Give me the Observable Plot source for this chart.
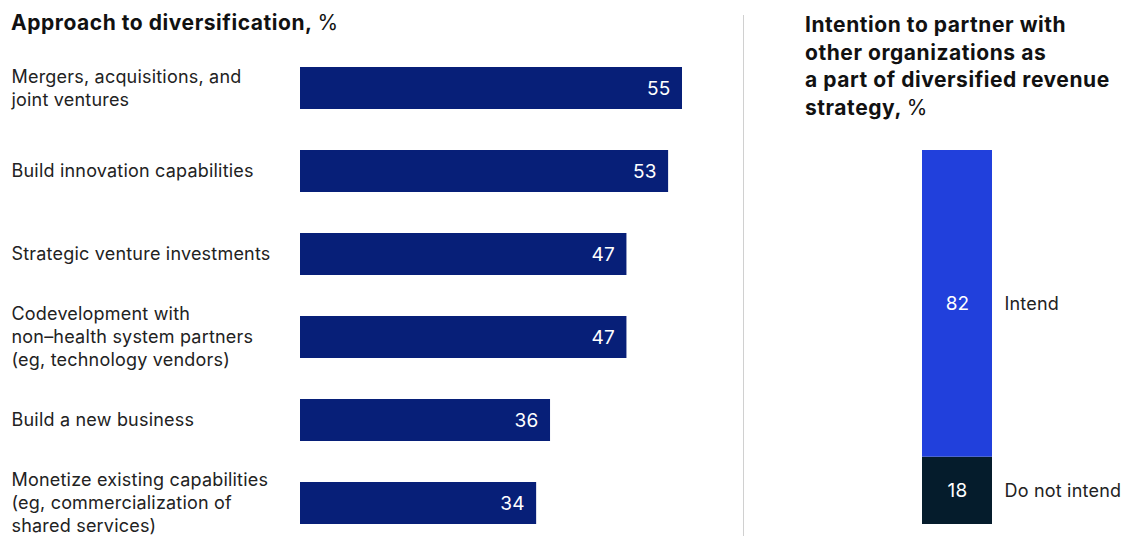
<!DOCTYPE html>
<html>
<head>
<meta charset="utf-8">
<script src="https://cdn.jsdelivr.net/npm/d3@7"></script>
<script src="https://cdn.jsdelivr.net/npm/@observablehq/plot@0.6"></script>
<style>
  body { margin: 0; background: #fff; font-family: Inter, "Liberation Sans", Arial, sans-serif; color: #000; }
  #wrap { position: relative; width: 1136px; height: 536px; overflow: hidden; }
  .title { position: absolute; font-size: 21px; font-weight: 700; line-height: 27.7px; color: #111; letter-spacing: 0.55px; }
  .title span { font-weight: normal; }
  #left, #right { position: absolute; top: 0; }
  #left { left: 0; }
  #right { left: 743px; }
  #sep { position: absolute; left: 743px; top: 15px; width: 1px; height: 521px; background: #d0d0d0; }
</style>
</head>
<body>
<div id="wrap">
  <div id="left"></div>
  <div id="right"></div>
  <div id="sep"></div>
  <div class="title" style="left:11px; top:9px;">Approach to diversification, <span>%</span></div>
  <div class="title" style="left:805px; top:11px;">Intention to partner with<br>other organizations as<br>a part of diversified revenue<br>strategy, <span>%</span></div>
</div>
<script>
const approaches = [
  "Mergers, acquisitions, and\njoint ventures",
  "Build innovation capabilities",
  "Strategic venture investments",
  "Codevelopment with\nnon–health system partners\n(eg, technology vendors)",
  "Build a new business",
  "Monetize existing capabilities\n(eg, commercialization of\nshared services)"
];
const approachValues = [55, 53, 47, 47, 36, 34];

const partnerCategories = ["Intend", "Do not intend"];
const partnerValues = [82, 18];

const font = "Inter, Liberation Sans, Arial, sans-serif";
const approachData = approaches.map((a, i) => ({label: a, value: approachValues[i]}));

const left = Plot.plot({
  width: 743,
  height: 536,
  marginLeft: 300,
  marginRight: 61,
  marginTop: 66,
  marginBottom: 12,
  style: {fontFamily: font, background: "transparent", overflow: "visible", letterSpacing: "0.2px"},
  x: {domain: [0, 55], axis: null},
  y: {domain: approaches, paddingInner: 0.495, paddingOuter: 0, axis: null},
  marks: [
    Plot.barX(approachData, {x: "value", y: "label", fill: "#071F78"}),
    Plot.text(approachData, {x: "value", y: "label", text: d => String(d.value), fill: "white", textAnchor: "end", dx: -12, fontSize: 19}),
    Plot.text(approachData, {y: "label", text: "label", frameAnchor: "left", textAnchor: "start", dx: -289, dy: -1.5, fontSize: 18, lineHeight: 1.28, fill: "#222"})
  ]
});
document.getElementById("left").appendChild(left);

const partnerData = partnerCategories.map((c, i) => ({group: "Partner", category: c, value: partnerValues[i]})).reverse();

const right = Plot.plot({
  width: 393,
  height: 536,
  marginLeft: 179,
  marginRight: 144,
  marginTop: 150,
  marginBottom: 12,
  style: {fontFamily: font, background: "transparent", overflow: "visible", letterSpacing: "0.2px"},
  x: {domain: ["Partner"], padding: 0, axis: null},
  y: {domain: [0, 100], axis: null},
  color: {domain: partnerCategories, range: ["#2140DC", "#051C2C"]},
  marks: [
    Plot.barY(partnerData, {x: "group", y: "value", fill: "category"}),
    Plot.text(partnerData, Plot.stackY({x: "group", y: "value", text: d => String(d.value), fill: "white", fontSize: 19})),
    Plot.text(partnerData, Plot.stackY({x: "group", y: "value", text: "category", textAnchor: "start", dx: 47, fill: "#222", fontSize: 18}))
  ]
});
document.getElementById("right").appendChild(right);
</script>
</body>
</html>
